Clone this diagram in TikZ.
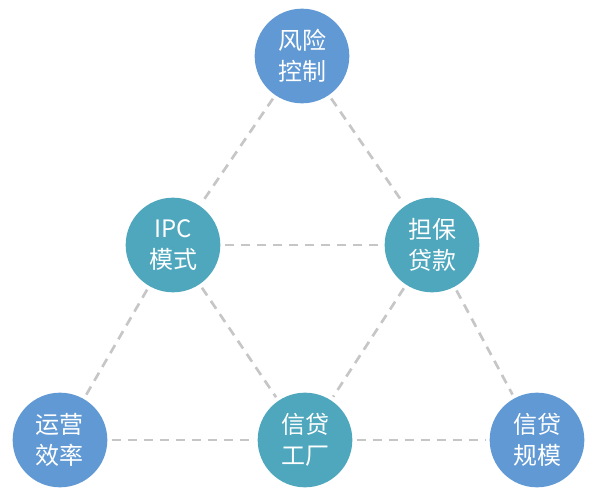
\documentclass[tikz,border=0pt]{standalone}
\usepackage{fontspec}
\newfontfamily\cjk{Noto Sans CJK SC}
\definecolor{dotblue}{RGB}{97,153,212}
\definecolor{dotteal}{RGB}{78,167,189}
\definecolor{linkgray}{RGB}{198,198,198}
\tikzset{
  bluedot/.style={circle, fill=dotblue, minimum size=71pt, inner sep=0pt, text=white, align=center, font=\cjk\fontsize{18}{23.5}\selectfont},
  tealdot/.style={bluedot, fill=dotteal},
  link/.style={draw=linkgray, line width=2pt, dash pattern={on 7pt off 5pt}, shorten >=3pt, shorten <=3pt}
}
\begin{document}
\begin{tikzpicture}[x=0.75pt,y=0.75pt,yscale=-1,xscale=1]
%set diagram frame
\path[use as bounding box] (0,0) rectangle (596,499);

% Circles
\node[bluedot] (fengxian) at (302,56) {风险\\控制};
\node[tealdot] (ipc) at (173,245) {IPC\\模式};
\node[tealdot] (danbao) at (432,245) {担保\\贷款};
\node[bluedot] (yunying) at (60,440) {运营\\效率};
\node[tealdot] (gongchang) at (305,440) {信贷\\工厂};
\node[bluedot] (guimo) at (537,440) {信贷\\规模};

% Dashed links
\draw[link] (fengxian) -- (ipc);
\draw[link] (fengxian) -- (danbao);
\draw[link] (ipc) -- (danbao);
\draw[link] (ipc) -- (yunying);
\draw[link] (ipc) -- (gongchang);
\draw[link] (danbao) -- (gongchang);
\draw[link] (danbao) -- (guimo);
\draw[link] (yunying) -- (gongchang);
\draw[link] (gongchang) -- (guimo);

\end{tikzpicture}
\end{document}
